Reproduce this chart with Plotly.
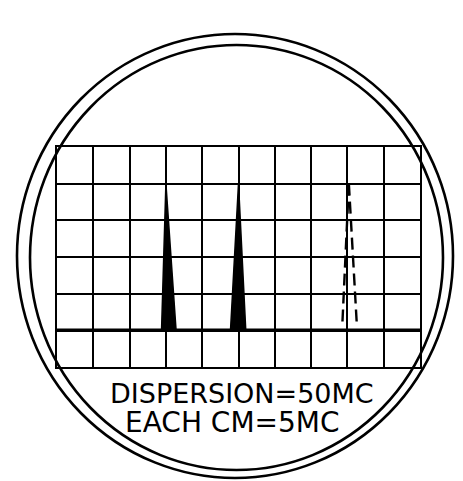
import plotly.graph_objects as go

# Spectrum analyzer display: dispersion 50 MC, each cm (division) = 5 MC
freq_axis_mc = [0, 50]           # horizontal span (MC)
amp_axis_cm = [0, 6]             # vertical span (cm)
baseline_cm = 1.0                # trace baseline level

# Solid pulses (signal peaks)
peak_center_mc = [15.0, 25.0]
peak_left_mc = [14.4, 23.9]
peak_right_mc = [16.4, 26.0]
peak_top_cm = [5.0, 5.0]

# Dashed pulse (image / spurious response)
ghost_center_mc = [40.2]
ghost_left_mc = [39.3]
ghost_right_mc = [41.3]
ghost_top_cm = [5.0]

labels = ["DISPERSION=50MC", "EACH CM=5MC"]

fig = go.Figure()

# baseline
fig.add_trace(go.Scatter(x=freq_axis_mc, y=[baseline_cm, baseline_cm], mode="lines",
                         line=dict(color="black", width=3.5), hoverinfo="skip"))

# solid peaks
for c, l, r, t in zip(peak_center_mc, peak_left_mc, peak_right_mc, peak_top_cm):
    fig.add_trace(go.Scatter(x=[l, c, r, l], y=[baseline_cm, t, baseline_cm, baseline_cm],
                             mode="lines", fill="toself", fillcolor="black",
                             line=dict(color="black", width=1.5), hoverinfo="skip"))

# dashed peak
for c, l, r, t in zip(ghost_center_mc, ghost_left_mc, ghost_right_mc, ghost_top_cm):
    fig.add_trace(go.Scatter(x=[c, l], y=[t, baseline_cm + 0.15],
                             mode="lines", line=dict(color="black", width=2.4, dash="12px,6px"),
                             hoverinfo="skip"))
    fig.add_trace(go.Scatter(x=[c, r], y=[t, baseline_cm + 0.15],
                             mode="lines", line=dict(color="black", width=2.4, dash="12px,6px"),
                             hoverinfo="skip"))

axis_common = dict(showgrid=True, gridcolor="black", gridwidth=2, showline=True,
                   linecolor="black", linewidth=2, mirror=True, zeroline=False,
                   showticklabels=False, ticks="", fixedrange=True)
fig.update_xaxes(range=freq_axis_mc, dtick=5, tick0=0, **axis_common)
fig.update_yaxes(range=amp_axis_cm, dtick=1, tick0=0, **axis_common)

OFF = 8  # page body margin
W, H = 463 - OFF, 481 - OFF
L, T = 57 - OFF, 147 - OFF
pw, ph = 363, 220
R, B = W - L - pw, H - T - ph


def px(x):
    return (x - OFF - L) / pw


def py(y):
    return (T + ph - (y - OFF)) / ph


shapes = [
    dict(type="circle", xref="paper", yref="paper", x0=px(17), x1=px(453), y0=py(478), y1=py(34),
         line=dict(color="black", width=2.6), layer="above"),
    dict(type="circle", xref="paper", yref="paper", x0=px(30), x1=px(443), y0=py(470), y1=py(45),
         line=dict(color="black", width=2.6), layer="above"),
]

annotations = [
    dict(text=labels[0], xref="paper", yref="paper", x=px(242), y=py(393), showarrow=False,
         xanchor="center", yanchor="middle", font=dict(family="DejaVu Sans", size=27, color="black")),
    dict(text=labels[1], xref="paper", yref="paper", x=px(232), y=py(422), showarrow=False,
         xanchor="center", yanchor="middle", font=dict(family="DejaVu Sans", size=28, color="black")),
]

fig.update_layout(width=W, height=H, autosize=False,
                  margin=dict(l=L, r=R, t=T, b=B, pad=0),
                  paper_bgcolor="white", plot_bgcolor="white",
                  showlegend=False, shapes=shapes, annotations=annotations)

fig.write_html("out.html", config={"displayModeBar": False})
